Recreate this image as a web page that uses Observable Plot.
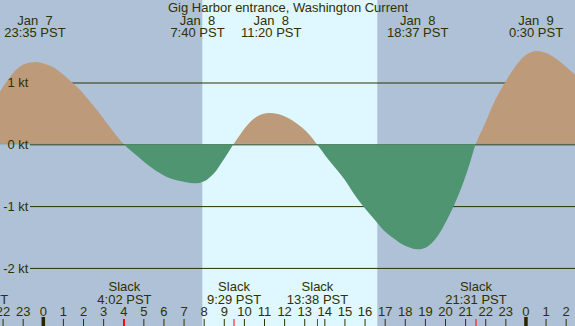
<!DOCTYPE html>
<html>
<head>
<meta charset="utf-8">
<script src="https://cdn.jsdelivr.net/npm/d3@7"></script>
<script src="https://cdn.jsdelivr.net/npm/@observablehq/plot@0.6"></script>
<style>
  html, body { margin: 0; padding: 0; background: #aec1d6; }
  svg { display: block; overflow: hidden; }
  svg text { white-space: pre; }
</style>
</head>
<body>
<div id="chart"></div>
<script>
// ---- Data (hours relative to Jan 8 00:00 PST) ----
const title = "Gig Harbor entrance, Washington Current";

// current speed (kt)
const curveHours = [-2.13, -1.63, -1.13, -0.42, 0.36, 0.86, 1.46, 1.86, 2.35, 2.85, 3.35, 4.03,
  4.84, 5.59, 6.33, 7.08, 7.67, 8.08, 8.32, 8.57, 8.82, 9.07, 9.32, 9.48,
  9.82, 10.07, 10.31, 10.56, 10.9, 11.33, 11.89, 12.39, 12.89, 13.3, 13.63,
  14.21, 14.96, 15.45, 15.92, 16.45, 16.95, 17.44, 17.94, 18.62, 19.1, 19.6, 20.1, 20.43, 20.93, 21.26, 21.52,
  22.0, 22.5, 23.0, 23.5, 24.0, 24.5, 25.0, 25.5, 26.0, 26.49];
const curveKt = [0.85, 1.09, 1.26, 1.33, 1.27, 1.17, 1.00, 0.88, 0.69, 0.49, 0.27, 0,
  -0.23, -0.42, -0.55, -0.61, -0.63, -0.59, -0.53, -0.45, -0.33, -0.21, -0.08, 0,
  0.16, 0.27, 0.36, 0.43, 0.485, 0.505, 0.47, 0.39, 0.27, 0.14, 0,
  -0.25, -0.55, -0.79, -1.00, -1.20, -1.39, -1.52, -1.63, -1.70, -1.66, -1.50, -1.22, -1.00, -0.60, -0.28, 0,
  0.34, 0.72, 1.01, 1.26, 1.44, 1.51, 1.48, 1.39, 1.26, 1.12];

// max / min events
const extremeDays = [7, 8, 8, 8, 9];
const extremeTimes = ["23:35", "7:40", "11:20", "18:37", "0:30"];

// slack events
const slackDays = [7, 8, 8, 8, 8];
const slackTimes = ["20:44", "4:02", "9:29", "13:38", "21:31"];

// daylight
const sunrise = "7:56";
const sunset = "16:38";

// reference lines and labels (kt)
const levels = [1, 0, -1, -2];
const levelLabels = ["1 kt", "0 kt", "-1 kt", "-2 kt"];

// hour ticks
const tickHours = d3.range(-2, 27);

// ---- Styles ----
const night = "#aec1d6";
const day = "#dff7fe";
const flood = "#bd9a79";
const ebb = "#509571";
const fg = "#303000";

const hourOf = (d, t) => { const [h, m] = t.split(":").map(Number); return (d - 8) * 24 + h + m / 60; };

const curve = curveHours.map((h, i) => ({h, v: curveKt[i]}));
const extremes = extremeTimes.map((t, i) => ({h: hourOf(extremeDays[i], t), date: "Jan  " + extremeDays[i], time: t + " PST"}));
const slacks = slackTimes.map((t, i) => ({h: hourOf(slackDays[i], t), time: t + " PST"}));
const dayBand = [{x1: hourOf(8, sunrise), x2: hourOf(8, sunset)}];
const levelData = levels.map((v, i) => ({v, label: levelLabels[i]}));

const mid = 0.32 * 13; // middle line anchor to baseline offset

const plot = Plot.plot({
  width: 575,
  height: 326,
  margin: 0,
  x: {domain: [-2.128, 26.464], axis: null},
  y: {domain: [-2.94, 2.335], axis: null},
  style: {background: night, fontFamily: "'Liberation Sans', Arial, sans-serif", fontSize: "13px", color: fg},
  marks: [
    Plot.rect(dayBand, {x1: "x1", x2: "x2", fill: day}),
    Plot.ruleY(levelData, {y: "v", stroke: fg, strokeWidth: 1, insetLeft: 30}),
    Plot.areaY(curve, {x: "h", y1: 0, y2: "v", fill: flood, curve: "catmull-rom"}),
    Plot.areaY(curve, {x: "h", y1: 0, y2: "v", fill: ebb, curve: "catmull-rom"}),
    Plot.text(levelData, {y: "v", text: "label", frameAnchor: "left", textAnchor: "end", dx: 28, fill: fg}),
    Plot.text([title], {frameAnchor: "top", lineAnchor: "middle", dy: 11 - mid, fill: fg}),
    Plot.text(extremes, {x: "h", text: "date", frameAnchor: "top", lineAnchor: "middle", dy: 24 - mid, fill: fg}),
    Plot.text(extremes, {x: "h", text: "time", frameAnchor: "top", lineAnchor: "middle", dy: 36 - mid, fill: fg}),
    Plot.text(slacks, {x: "h", text: () => "Slack", frameAnchor: "top", lineAnchor: "middle", dy: 290.7 - mid, fill: fg}),
    Plot.text(slacks, {x: "h", text: "time", frameAnchor: "top", lineAnchor: "middle", dy: 303.3 - mid, fill: fg}),
    Plot.text(tickHours, {x: d => d, text: d => String(((d % 24) + 24) % 24), frameAnchor: "top", lineAnchor: "middle", dy: 315.7 - mid, fill: fg}),
    Plot.ruleX(tickHours.filter(h => h % 24 !== 0), {x: d => d, stroke: fg, strokeWidth: 1, insetTop: 319}),
    Plot.ruleX(tickHours.filter(h => h % 24 === 0), {x: d => d, stroke: "#2a2400", strokeWidth: 3.5, insetTop: 317}),
    Plot.ruleX(slacks, {x: "h", stroke: "#ff0000", strokeWidth: 1, insetTop: 319})
  ]
});

// clip the flood fill above zero and the ebb fill below zero
const y0 = plot.scale("y").apply(0);
const svgNS = "http://www.w3.org/2000/svg";
const defs = document.createElementNS(svgNS, "defs");
function addClip(id, y, h) {
  const cp = document.createElementNS(svgNS, "clipPath");
  cp.setAttribute("id", id);
  const r = document.createElementNS(svgNS, "rect");
  r.setAttribute("x", 0); r.setAttribute("y", y);
  r.setAttribute("width", 575); r.setAttribute("height", h);
  cp.appendChild(r); defs.appendChild(cp);
}
addClip("clip-flood", 0, y0 - 0.5);
addClip("clip-ebb", y0 - 0.5, 326 - y0 + 0.5);
plot.insertBefore(defs, plot.firstChild);
const areas = plot.querySelectorAll('g[aria-label="area"]');
areas[0].setAttribute("clip-path", "url(#clip-flood)");
areas[1].setAttribute("clip-path", "url(#clip-ebb)");

document.getElementById("chart").appendChild(plot);
</script>
</body>
</html>
